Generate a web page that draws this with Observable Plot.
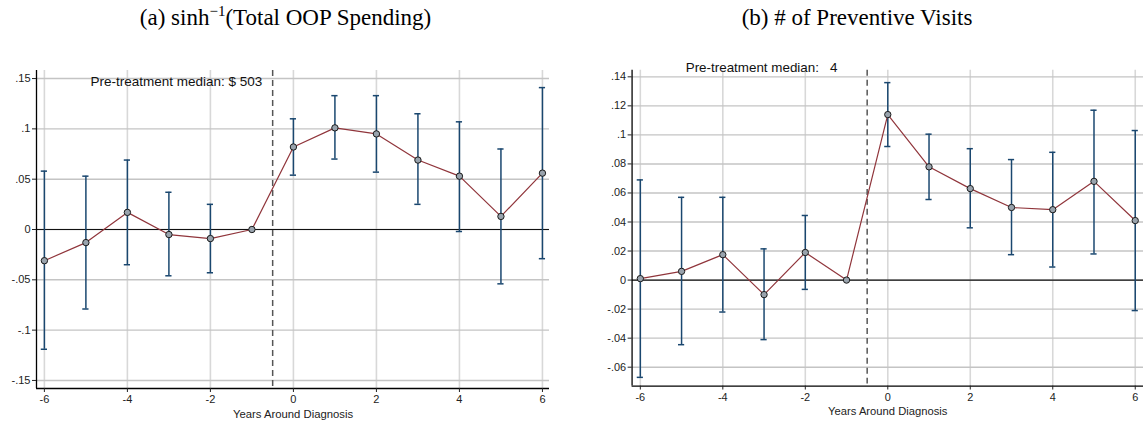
<!DOCTYPE html>
<html>
<head>
<meta charset="utf-8">
<script src="https://cdn.jsdelivr.net/npm/d3@7"></script>
<script src="https://cdn.jsdelivr.net/npm/@observablehq/plot@0.6"></script>
<style>
  html, body { margin: 0; padding: 0; background: #fff; overflow: hidden; }
  #wrap { display: flex; width: 1143px; height: 421px; }
  .panel { position: relative; overflow: hidden; }
  .title { height: 40px; line-height: 36px; text-align: center; font-family: "Liberation Serif", "DejaVu Serif", serif; font-size: 23px; color: #000; }
  .title sup { font-size: 15px; vertical-align: 9px; line-height: 0; }
</style>
</head>
<body>
<div id="wrap">
  <div class="panel" id="pa" style="width:571px"><div class="title">(a) sinh<sup>−1</sup>(Total OOP Spending)</div></div>
  <div class="panel" id="pb" style="width:572px"><div class="title"># placeholder</div></div>
</div>
<script>
// ---- data ----
const years = [-6, -5, -4, -3, -2, -1, 0, 1, 2, 3, 4, 5, 6];

const oopCoef = [-0.031, -0.013, 0.017, -0.005, -0.009, 0, 0.082, 0.101, 0.095, 0.069, 0.053, 0.013, 0.056];
const oopLo   = [-0.119, -0.079, -0.035, -0.046, -0.043, null, 0.054, 0.070, 0.057, 0.025, -0.002, -0.054, -0.029];
const oopHi   = [0.058, 0.053, 0.069, 0.037, 0.025, null, 0.110, 0.133, 0.133, 0.115, 0.107, 0.080, 0.141];

const visCoef = [0.001, 0.006, 0.0175, -0.010, 0.019, 0, 0.114, 0.078, 0.063, 0.050, 0.0485, 0.068, 0.041];
const visLo   = [-0.067, -0.0445, -0.022, -0.041, -0.0064, null, 0.092, 0.0555, 0.036, 0.0175, 0.009, 0.018, -0.021];
const visHi   = [0.069, 0.057, 0.057, 0.0215, 0.0445, null, 0.136, 0.1005, 0.0905, 0.083, 0.088, 0.117, 0.103];

const xTicks = [-6, -4, -2, 0, 2, 4, 6];
const oopTicks = [-0.15, -0.1, -0.05, 0, 0.05, 0.1, 0.15];
const visTicks = [-0.06, -0.04, -0.02, 0, 0.02, 0.04, 0.06, 0.08, 0.1, 0.12, 0.14];

const titleB = "(b) # of Preventive Visits";
const noteA = "Pre-treatment median: $ 503";
const noteB = "Pre-treatment median:   4";
const xLabel = "Years Around Diagnosis";
const treatmentLine = -0.5;

// ---- helpers ----
const fmt = d => d === 0 ? "0" : String(+d.toFixed(2)).replace(/^(-?)0\./, "$1.");

function build(coef, lo, hi) {
  return years.map((x, i) => ({x, y: coef[i], lo: lo[i], hi: hi[i]}));
}

function panel(data, opts) {
  const ci = data.filter(d => d.lo != null);
  const cap = 0.075;
  return Plot.plot({
    width: opts.width,
    height: 381,
    marginLeft: opts.marginLeft,
    marginRight: opts.marginRight,
    marginTop: 30,
    marginBottom: 33,
    style: {fontFamily: "'Liberation Sans', Arial, Helvetica, sans-serif", fontSize: "11px", color: "#222", background: "#fff"},
    x: {domain: opts.xDomain},
    y: {domain: opts.yDomain},
    marks: [
      Plot.gridX(xTicks, {stroke: "#d8d8d8", strokeOpacity: 1, strokeWidth: 1.6}),
      Plot.gridY(opts.yTicks, {stroke: "#c4c4c4", strokeOpacity: 1, strokeWidth: 1.4}),
      Plot.ruleY([0], {stroke: "#111", strokeWidth: 1.1}),
      Plot.ruleX([treatmentLine], {stroke: "#555", strokeWidth: 1.5, strokeDasharray: "6,4"}),
      Plot.ruleX([opts.xDomain[0]], {stroke: "#000", strokeWidth: 1.3}),
      Plot.ruleY([opts.yDomain[0]], {stroke: "#000", strokeWidth: 1.3}),
      Plot.ruleX(ci, {x: "x", y1: "lo", y2: "hi", stroke: "#1a476f", strokeWidth: 1.5}),
      Plot.ruleY(ci, {y: "lo", x1: d => d.x - cap, x2: d => d.x + cap, stroke: "#1a476f", strokeWidth: 1.5}),
      Plot.ruleY(ci, {y: "hi", x1: d => d.x - cap, x2: d => d.x + cap, stroke: "#1a476f", strokeWidth: 1.5}),
      Plot.line(data, {x: "x", y: "y", stroke: "#90353b", strokeWidth: 1.2}),
      Plot.dot(data, {x: "x", y: "y", r: 3.2, fill: "#99a3ad", stroke: "#1a1a1a", strokeWidth: 1}),
      Plot.axisX(xTicks, {tickSize: 4, tickPadding: 3, tickFormat: d => String(d), label: null, fontSize: 11}),
      Plot.axisY(opts.yTicks, {tickSize: 4, tickPadding: 2, tickFormat: fmt, label: null, fontSize: 11}),
      Plot.text([xLabel], {frameAnchor: "bottom", dy: 29, fontSize: 11.3, fill: "#222"}),
      Plot.text([opts.note], {frameAnchor: "top-left", textAnchor: "start", dx: opts.noteDx, dy: opts.noteDy, fontSize: 13.5, fill: "#111"})
    ]
  });
}

document.querySelector("#pb .title").textContent = titleB;

document.getElementById("pa").appendChild(panel(build(oopCoef, oopLo, oopHi), {
  width: 571, marginLeft: 36, marginRight: 22,
  xDomain: [-6.19, 6.17], yDomain: [-0.158, 0.158], yTicks: oopTicks,
  note: noteA, noteDx: 54, noteDy: 6
}));

document.getElementById("pb").appendChild(panel(build(visCoef, visLo, visHi), {
  width: 576, marginLeft: 61, marginRight: 0,
  xDomain: [-6.2, 6.2], yDomain: [-0.073, 0.1445], yTicks: visTicks,
  note: noteB, noteDx: 54, noteDy: -8
}));
</script>
</body>
</html>
